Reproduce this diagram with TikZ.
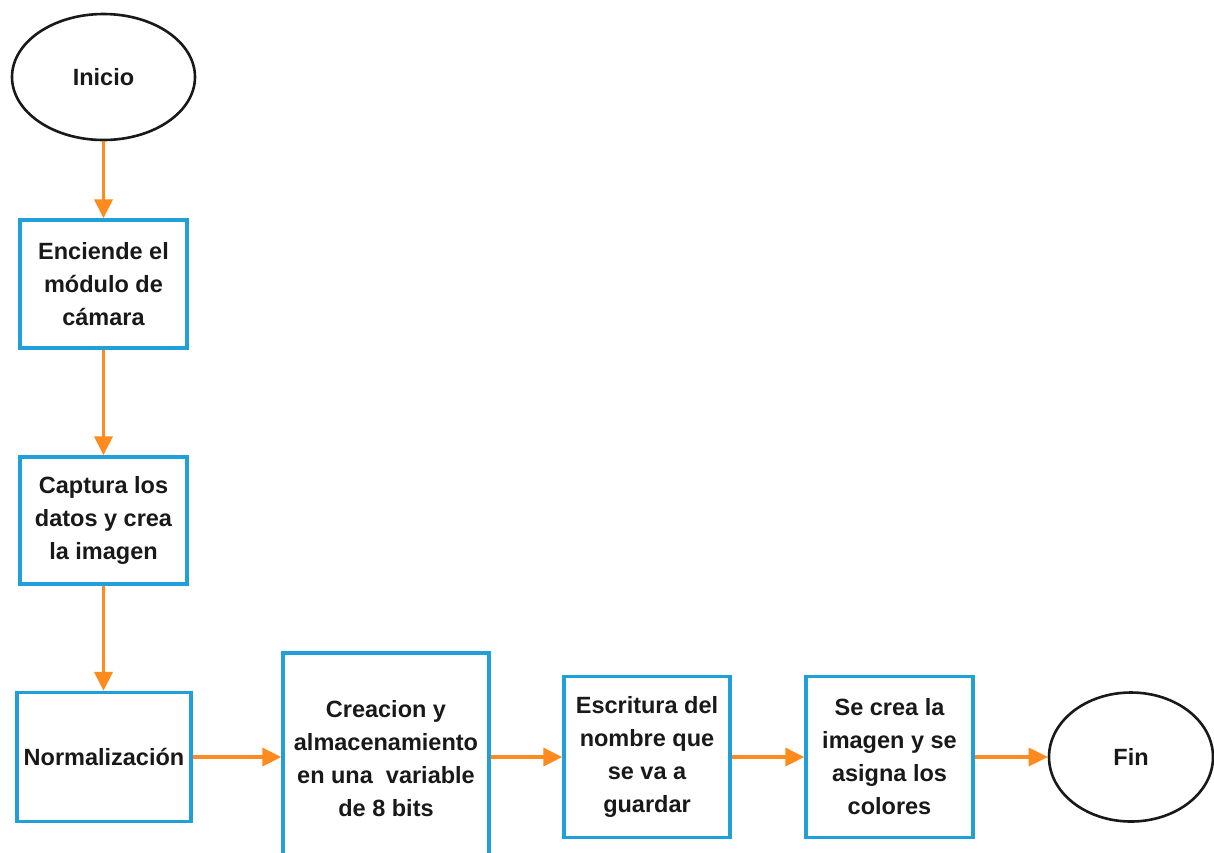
\documentclass[tikz,border=0pt]{standalone}
\usepackage{fontspec}
\setmainfont{Liberation Sans}
\usetikzlibrary{arrows.meta,shapes.geometric}
\definecolor{boxblue}{RGB}{32,160,218}
\definecolor{flow}{RGB}{255,138,30}
\definecolor{ink}{RGB}{25,25,25}
\tikzset{
  txt/.style={font=\bfseries\fontsize{23.5}{33}\selectfont, text=ink, align=center},
  procbox/.style={draw=boxblue, line width=3.3pt, txt, inner sep=0pt},
  term/.style={ellipse, draw=ink, line width=2.6pt, txt, inner sep=0pt},
  flowarrow/.style={draw=flow, line width=3.3pt, -{Triangle[length=19pt,width=18pt]}}
}
\begin{document}
\begin{tikzpicture}[x=1pt,y=-1pt]
  \useasboundingbox (0,0) rectangle (1214,852);
  \fill[white] (0,0) rectangle (1214,852);
  \clip (0,0) rectangle (1214,852);

  % vertical part of the flow
  \node[term, minimum width=183, minimum height=126] (inicio) at (103.5,77) {Inicio};
  \node[procbox, minimum width=167, minimum height=128] (enciende) at (103.5,284)
    {Enciende el\\m\'odulo de\\c\'amara};
  \node[procbox, minimum width=167, minimum height=127] (captura) at (103.5,520.5)
    {Captura los\\datos y crea\\la imagen};
  \node[procbox, minimum width=174, minimum height=129] (norm) at (104,757)
    {Normalizaci\'on};

  % horizontal part of the flow
  \node[procbox, minimum width=206, minimum height=254] (creacionbox) at (386,780) {};
  \node[txt] (creacion) at (386,759)
    {Creacion y\\almacenamiento\\en una~ variable\\de 8 bits};
  \node[procbox, minimum width=166, minimum height=161] (escritura) at (647,757)
    {Escritura del\\nombre que\\se va a\\guardar};
  \node[procbox, minimum width=167, minimum height=161] (secrea) at (889.5,757)
    {Se crea la\\imagen y se\\asigna los\\colores};
  \node[term, minimum width=164, minimum height=129] (fin) at (1131,757) {Fin};

  % connectors
  \draw[flowarrow] (inicio.south) -- (enciende.north);
  \draw[flowarrow] (enciende.south) -- (captura.north);
  \draw[flowarrow] (captura.south) -- (captura.south |- norm.north);
  \draw[flowarrow] (norm.east) -- (norm.east -| creacionbox.west);
  \draw[flowarrow] (norm.east -| creacionbox.east) -- (escritura.west);
  \draw[flowarrow] (escritura.east) -- (secrea.west);
  \draw[flowarrow] (secrea.east) -- (fin.west);
\end{tikzpicture}
\end{document}
